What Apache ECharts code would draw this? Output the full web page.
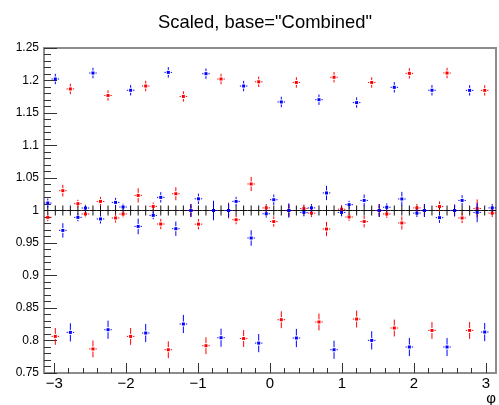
<!DOCTYPE html>
<html>
<head>
<meta charset="utf-8">
<script src="https://cdn.jsdelivr.net/npm/echarts@6/dist/echarts.min.js"></script>
<style>
html,body{margin:0;padding:0;background:#fff;}
#chart{width:499px;height:405px;}
</style>
</head>
<body>
<div id="chart"></div>
<script>
// ---- data ----
const titleText = 'Scaled, base="Combined"';
const xTitle = 'φ';
const nBins = 60;                // fine bins over [-pi, pi]
const xMajorTicks = [-3, -2, -1, 0, 1, 2, 3];
const xMinorTicks = [-3.0,-2.8,-2.6,-2.4,-2.2,-2.0,-1.8,-1.6,-1.4,-1.2,-1.0,-0.8,-0.6,-0.4,-0.2,0,0.2,0.4,0.6,0.8,1.0,1.2,1.4,1.6,1.8,2.0,2.2,2.4,2.6,2.8,3.0];

// reference ("Combined") values, one per bin
const blackValues = [1,1,1,1,1,1,1,1,1,1,1,1,1,1,1,1,1,1,1,1,1,1,1,1,1,1,1,1,1,1,
                     1,1,1,1,1,1,1,1,1,1,1,1,1,1,1,1,1,1,1,1,1,1,1,1,1,1,1,1,1,1];
const blackErr = 0.0077;

const redValues = [
  0.9894, 0.8063, 1.0305, 1.187,  1.0105,
  0.9946, 0.787,  1.014,  1.177,  0.9885,
  0.9946, 0.8063, 1.0232, 1.1915, 1.0063,
  0.9792, 0.7858, 1.0258, 1.1755, 1.0,
  0.979,  0.792,  1.0,    1.2023, 1.0,
  0.9858, 0.803,  1.0408, 1.198,  1.004,
  0.983,  0.832,  1.0,    1.197,  1.003,
  0.996,  0.8285, 0.9715, 1.205,  1.002,
  0.990,  0.833,  0.983,  1.197,  1.0,
  0.9946, 0.8192, 0.9808, 1.211,  1.004,
  1.0,    0.8155, 1.006,  1.2115, 1.0,
  0.9885, 0.8155, 1.003,  1.1848, 0.996
];
const redErr = [
  0.006,0.013,0.009,0.008,0.006,
  0.005,0.013,0.007,0.008,0.007,
  0.005,0.013,0.011,0.008,0.006,
  0.008,0.013,0.010,0.008,0.010,
  0.008,0.013,0.014,0.008,0.012,
  0.007,0.013,0.011,0.008,0.006,
  0.008,0.013,0.010,0.008,0.006,
  0.006,0.013,0.011,0.008,0.006,
  0.006,0.013,0.009,0.008,0.010,
  0.006,0.013,0.010,0.008,0.006,
  0.010,0.013,0.008,0.008,0.009,
  0.008,0.013,0.014,0.008,0.006
];
const blueValues = [
  1.0115, 1.2023, 0.9694, 0.8125, 0.9894,
  1.0038, 1.2115, 0.987,  0.8166, 1.0125,
  1.0054, 1.185,  0.9755, 0.8115, 0.9925,
  1.0202, 1.2125, 0.972,  0.8254, 1.0,
  1.018,  1.2105, 1.0,    0.8043, 1.0,
  1.014,  1.1915, 0.9577, 0.796,  0.995,
  1.0166, 1.167,  1.0,    0.8038, 0.997,
  1.004,  1.1705, 1.027,  0.7858, 0.997,
  1.009,  1.166,  1.0155, 0.8002, 1.0,
  1.005,  1.1895, 1.0177, 0.790,  0.996,
  1.0,    1.185,  0.989,  0.790,  1.0,
  1.0155, 1.1848, 0.997,  0.813,  1.004
];
const blueErr = [
  0.007,0.008,0.011,0.014,0.006,
  0.005,0.008,0.007,0.014,0.007,
  0.005,0.008,0.012,0.014,0.006,
  0.008,0.008,0.011,0.014,0.010,
  0.008,0.008,0.015,0.014,0.011,
  0.007,0.008,0.012,0.014,0.006,
  0.008,0.008,0.011,0.014,0.006,
  0.006,0.008,0.011,0.014,0.006,
  0.006,0.008,0.009,0.014,0.010,
  0.006,0.008,0.011,0.014,0.006,
  0.010,0.008,0.008,0.014,0.009,
  0.008,0.008,0.015,0.014,0.006
];

// ---- build ----
const xMin = -Math.PI, xMax = Math.PI;
const binW = (xMax - xMin) / nBins;
const centers = [];
for (let i = 0; i < nBins; i++) centers.push(xMin + (i + 0.5) * binW);

const toData = (vals, errs) => vals.map((v, i) => [centers[i], v, Array.isArray(errs) ? errs[i] : errs]);

function errRender(color, gap, marker) {
  return function (params, api) {
    const x = api.value(0), y = api.value(1), e = api.value(2);
    const c = api.coord([x, y]);
    const top = api.coord([x, y + e])[1];
    const bot = api.coord([x, y - e])[1];
    const left = api.coord([x - binW / 2, y])[0];
    const right = api.coord([x + binW / 2, y])[0];
    const st = { stroke: color, lineWidth: 1 };
    const ch = [];
    if (gap > 0) {
      ch.push({ type: 'line', shape: { x1: c[0], y1: top, x2: c[0], y2: c[1] - gap }, style: st });
      ch.push({ type: 'line', shape: { x1: c[0], y1: c[1] + gap, x2: c[0], y2: bot }, style: st });
      ch.push({ type: 'line', shape: { x1: left, y1: c[1], x2: c[0] - gap, y2: c[1] }, style: st });
      ch.push({ type: 'line', shape: { x1: c[0] + gap, y1: c[1], x2: right, y2: c[1] }, style: st });
    } else {
      ch.push({ type: 'line', shape: { x1: c[0], y1: top, x2: c[0], y2: bot }, style: st });
      ch.push({ type: 'line', shape: { x1: left, y1: c[1], x2: right, y2: c[1] }, style: st });
    }
    if (marker > 0) {
      ch.push({ type: 'rect', shape: { x: c[0] - marker / 2, y: c[1] - marker / 2, width: marker, height: marker }, style: { fill: color } });
    }
    return { type: 'group', children: ch };
  };
}

const FONT = '"Liberation Sans", Arial, Helvetica, sans-serif';
const chart = echarts.init(document.getElementById('chart'), null, { renderer: 'canvas' });

const option = {
  animation: false,
  backgroundColor: '#fff',
  grid: { left: 44, right: 3, top: 48, bottom: 32, show: true, borderColor: '#8c8c8c', borderWidth: 2, backgroundColor: 'transparent' },
  xAxis: [
    {
      type: 'value', min: xMin, max: xMax, position: 'bottom',
      axisLine: { show: false, onZero: false },
      splitLine: { show: false },
      axisTick: { show: true, inside: true, length: 10, customValues: xMajorTicks, lineStyle: { color: '#333', width: 1 } },
      axisLabel: { show: true, customValues: xMajorTicks, margin: 3, fontSize: 15, color: '#000', fontFamily: FONT,
        formatter: v => String(v).replace('-', '\u2212') }
    },
    {
      type: 'value', min: xMin, max: xMax, position: 'bottom',
      axisLine: { show: false, onZero: false },
      splitLine: { show: false },
      axisTick: { show: true, inside: true, length: 5, customValues: xMinorTicks, lineStyle: { color: '#333', width: 1 } },
      axisLabel: { show: false }
    }
  ],
  yAxis: {
    type: 'value', min: 0.75, max: 1.25, interval: 0.05, position: 'left',
    axisLine: { show: false, onZero: false },
    splitLine: { show: false },
    axisTick: { show: true, inside: true, length: 13, lineStyle: { color: '#333', width: 1 } },
    minorTick: { show: true, splitNumber: 5, length: 7, lineStyle: { color: '#333', width: 1 } },
    minorSplitLine: { show: false },
    axisLabel: { margin: 5, fontSize: 12, color: '#000', fontFamily: FONT,
      formatter: v => String(parseFloat(Number(v).toFixed(2))) }
  },
  series: [
    { type: 'custom', name: 'Combined', clip: true, xAxisIndex: 0, renderItem: errRender('#111', 0, 0), data: toData(blackValues, blackErr), z: 2 },
    { type: 'custom', name: 'red', clip: true, xAxisIndex: 0, renderItem: errRender('#ff0000', 2.5, 3), data: toData(redValues, redErr), z: 3 },
    { type: 'custom', name: 'blue', clip: true, xAxisIndex: 0, renderItem: errRender('#0000ff', 2.5, 3), data: toData(blueValues, blueErr), z: 4 }
  ],
  graphic: [
    { type: 'text', style: { text: titleText, x: 265, y: 23, textAlign: 'center', textVerticalAlign: 'middle', font: '18.4px ' + FONT, fill: '#000' } },
    { type: 'text', style: { text: xTitle, x: 496, y: 399, textAlign: 'right', textVerticalAlign: 'middle', font: '15px ' + FONT, fill: '#000' } }
  ]
};
chart.setOption(option);
</script>
</body>
</html>
